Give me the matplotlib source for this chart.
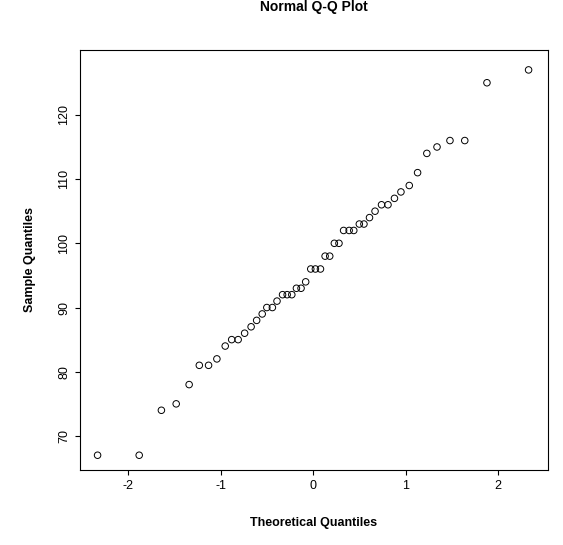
import matplotlib
matplotlib.use("Agg")
import matplotlib.pyplot as plt

theoretical = [-2.33,-1.88,-1.64,-1.48,-1.34,-1.23,-1.13,-1.04,-0.95,-0.88,-0.81,-0.74,-0.67,-0.61,-0.55,-0.50,-0.44,-0.39,-0.33,-0.28,-0.23,-0.18,-0.13,-0.08,-0.025,
               0.025,0.08,0.13,0.18,0.23,0.28,0.33,0.39,0.44,0.50,0.55,0.61,0.67,0.74,0.81,0.88,0.95,1.04,1.13,1.23,1.34,1.48,1.64,1.88,2.33]
sample = [67,67,74,75,78,81,81,82,84,85,85,86,87,88,89,90,90,91,92,92,92,93,93,94,96,
          96,96,98,98,100,100,102,102,102,103,103,104,105,106,106,107,108,109,111,114,115,116,116,125,127]
xticks = [-2,-1,0,1,2]
yticks = [70,80,90,100,110,120]

plt.rcParams['font.family'] = ['Liberation Sans', 'DejaVu Sans']
fig = plt.figure(figsize=(5.63,5.45), dpi=100)
ax = fig.add_axes([80/563, 1-470/545, 468/563, 420/545])
ax.scatter(theoretical, sample, s=22, facecolors='none', edgecolors='black', linewidths=0.7)
ax.set_xlim(-2.52, 2.54)
ax.set_ylim(64.7, 130.1)
ax.set_xticks(xticks)
ax.set_xticklabels(['-2','-1','0','1','2'])
ax.set_yticks(yticks)
ax.set_yticklabels([str(v) for v in yticks], rotation=90, va='center')
ax.tick_params(labelsize=9)
ax.set_title('Normal Q-Q Plot', fontsize=10, fontweight='bold', pad=28)
ax.set_xlabel('Theoretical Quantiles', fontsize=9, fontweight='bold', labelpad=18)
ax.set_ylabel('Sample Quantiles', fontsize=9, fontweight='bold', labelpad=16)
fig.savefig('out.png', dpi=100)
